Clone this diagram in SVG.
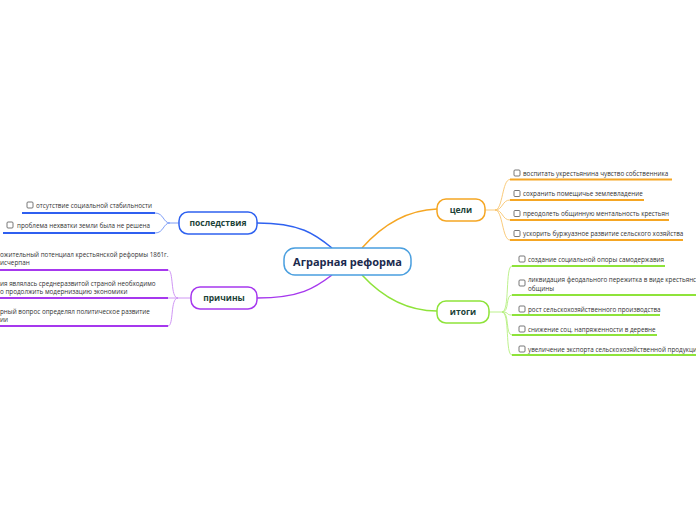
<svg xmlns="http://www.w3.org/2000/svg" width="696" height="520" viewBox="0 0 696 520">
<style>
.node{fill:#ffffff;stroke-width:1.5}
.lbl{font-family:"Open Sans","Noto Sans",sans-serif;font-weight:bold;font-size:8.5px;fill:#1c4238;text-anchor:middle}
.main{font-family:"Open Sans","Noto Sans",sans-serif;font-weight:bold;font-size:11px;fill:#1b2a4e;text-anchor:middle}
.leaf{font-family:"Open Sans","Noto Sans",sans-serif;font-size:6.3px;fill:#333333}
.cb{fill:#ffffff;stroke:#555555;stroke-width:0.8}
.thin{fill:none;stroke-width:0.9}
.ul{fill:none;stroke-width:2}
.mc{fill:none;stroke-width:1.5}
</style>
<rect width="696" height="520" fill="#ffffff"/>
<g id="connectors">
  <path class="mc" stroke="#2f62f0" d="M332,248 C315,234 300,223 257,223"/>
  <path class="mc" stroke="#a638ee" d="M332,275 C315,288 300,298 257,298"/>
  <path class="mc" stroke="#f5a623" d="M362,248 C385,222 410,210 437,209"/>
  <path class="mc" stroke="#8ee33a" d="M362,275 C385,300 410,311 437,311"/>
  <path class="thin" stroke="#6f92f5" d="M179,223 H170 C163,223 164,213 155,213 M170,223 C163,223 164,233 155,233"/>
  <path class="ul" stroke="#2f5ff0" d="M155,213 H22 M155,233 H3"/>
  <path class="thin" stroke="#c98af3" d="M191,298 H178 C170,298 174,270 168,270 M178,298 H168 M178,298 C170,298 174,326 168,326"/>
  <path class="ul" stroke="#a638ee" d="M168,270 H0 M168,298 H0 M168,326 H0"/>
  <path class="thin" stroke="#f8c46c" d="M485,210 H495 C503,210 502,179.5 510,179.5 M495,210 C503,210 502,200 510,200 M495,210 C503,210 502,220 510,220 M495,210 C503,210 502,240 510,240"/>
  <path class="ul" stroke="#f5a623" d="M510,179.5 H672 M510,200 H644 M510,220 H669 M510,240 H683"/>
  <path class="thin" stroke="#b6ef80" d="M489,312 H502 C510,312 505,266 512,266 M502,312 C510,312 505,295 512,295 M502,312 C510,312 505,315 512,315 M502,312 C510,312 505,335 512,335 M502,312 C510,312 505,355 512,355"/>
  <path class="ul" stroke="#8ee33a" d="M512,266 H665 M512,295 H696 M512,315 H660 M512,335 H657 M512,355 H696"/>
</g>
<g id="central">
  <rect class="node" stroke="#4a9fdf" x="284" y="248" width="127" height="27" rx="11"/>
  <text class="main" x="347.5" y="265.5">Аграрная реформа</text>
</g>
<g id="posledstviya">
  <rect class="node" stroke="#2f62f0" x="179" y="212" width="78" height="22" rx="9"/>
  <text class="lbl" x="218" y="226">последствия</text>
</g>
<g id="prichiny">
  <rect class="node" stroke="#a638ee" x="191" y="287" width="66" height="22" rx="9"/>
  <text class="lbl" x="224" y="301">причины</text>
</g>
<g id="tseli">
  <rect class="node" stroke="#f5a623" x="437" y="199" width="48" height="22" rx="9"/>
  <text class="lbl" x="461" y="213">цели</text>
</g>
<g id="itogi">
  <rect class="node" stroke="#8ee33a" x="437" y="301" width="52" height="22" rx="9"/>
  <text class="lbl" x="463" y="315">итоги</text>
</g>
<g id="leaf-p1">
  <rect class="cb" x="27" y="202" width="6" height="6" rx="1"/>
  <text class="leaf" x="36" y="207.5">отсутствие социальной стабильности</text>
</g>
<g id="leaf-p2">
  <rect class="cb" x="7" y="222" width="6" height="6" rx="1"/>
  <text class="leaf" x="17" y="227.5">проблема нехватки земли была не решена</text>
</g>
<g id="leaf-r1">
  <text class="leaf" x="0" y="256.5">ожительный потенциал крестьянской реформы 1861г.</text>
  <text class="leaf" x="0" y="264.5">исчерпан</text>
</g>
<g id="leaf-r2">
  <text class="leaf" x="0" y="285.5">ия являлась среднеразвитой страной  необходимо</text>
  <text class="leaf" x="0" y="293.5">о продолжить модернизацию экономики</text>
</g>
<g id="leaf-r3">
  <text class="leaf" x="0" y="313.5">рный вопрос определял политическое развитие</text>
  <text class="leaf" x="0" y="321.5">ии</text>
</g>
<g id="leaf-t1">
  <rect class="cb" x="514" y="170" width="6" height="6" rx="1"/>
  <text class="leaf" x="523" y="175.5">воспитать укрестьянина чувство собственника</text>
</g>
<g id="leaf-t2">
  <rect class="cb" x="514" y="190.5" width="6" height="6" rx="1"/>
  <text class="leaf" x="523" y="196">сохранить помещичье землевладение</text>
</g>
<g id="leaf-t3">
  <rect class="cb" x="514" y="210.5" width="6" height="6" rx="1"/>
  <text class="leaf" x="523" y="216">преодолеть общинную ментальность крестьян</text>
</g>
<g id="leaf-t4">
  <rect class="cb" x="514" y="230.5" width="6" height="6" rx="1"/>
  <text class="leaf" x="523" y="236">ускорить буржуазное развитие сельского хозяйства</text>
</g>
<g id="leaf-i1">
  <rect class="cb" x="519" y="256" width="6" height="6" rx="1"/>
  <text class="leaf" x="528" y="261.5">создание социальной опоры самодержавия</text>
</g>
<g id="leaf-i2">
  <rect class="cb" x="519" y="280" width="6" height="6" rx="1"/>
  <text class="leaf" x="528" y="281.5">ликвидация феодального пережитка в виде крестьянской</text>
  <text class="leaf" x="528" y="290.5">общины</text>
</g>
<g id="leaf-i3">
  <rect class="cb" x="519" y="306" width="6" height="6" rx="1"/>
  <text class="leaf" x="528" y="311.5">рост сельскохозяйственного производства</text>
</g>
<g id="leaf-i4">
  <rect class="cb" x="519" y="326" width="6" height="6" rx="1"/>
  <text class="leaf" x="528" y="331.5">снижение соц. напряженности в деревне</text>
</g>
<g id="leaf-i5">
  <rect class="cb" x="519" y="346" width="6" height="6" rx="1"/>
  <text class="leaf" x="528" y="351.5">увеличение экспорта сельскохозяйственной продукции</text>
</g>
</svg>
